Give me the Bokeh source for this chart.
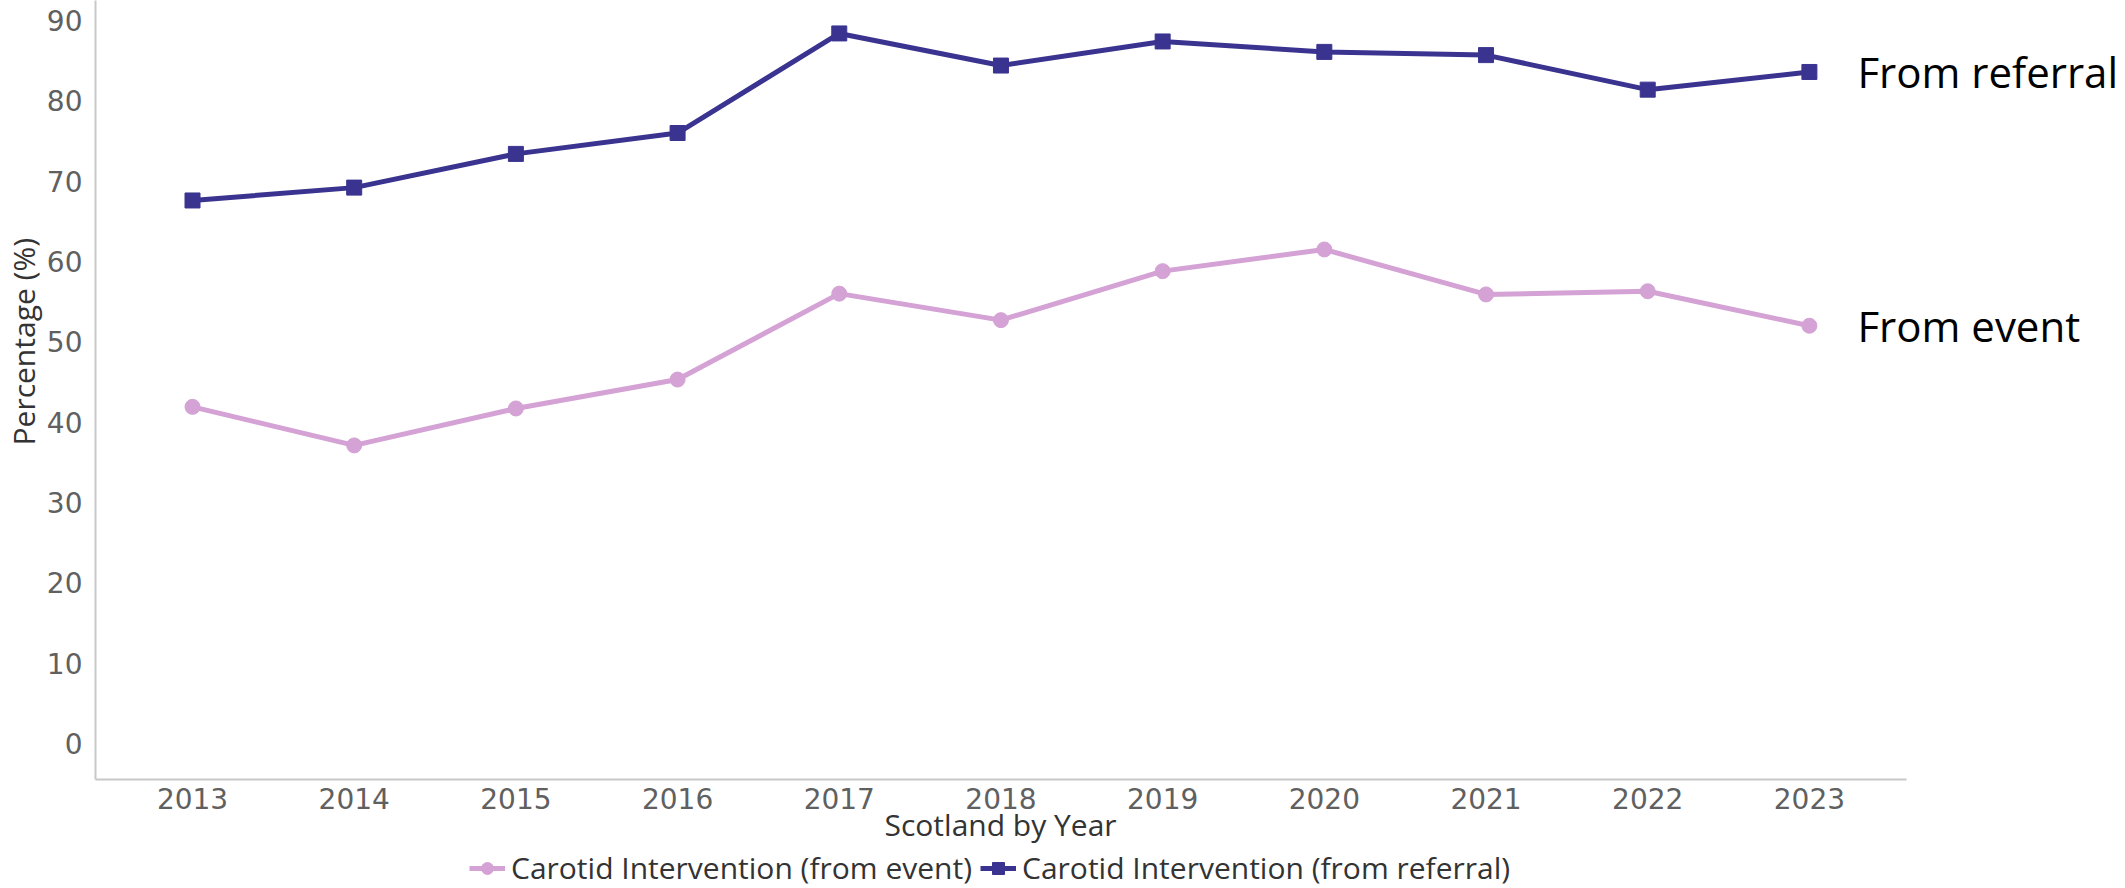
from bokeh.plotting import figure
from bokeh.layouts import column
from bokeh.models import Label, Legend, LegendItem, FixedTicker, Range1d, Title
from bokeh.embed import file_html
from bokeh.resources import INLINE

years = [2013, 2014, 2015, 2016, 2017, 2018, 2019, 2020, 2021, 2022, 2023]
from_referral = [67.6, 69.2, 73.4, 76.0, 88.4, 84.4, 87.4, 86.1, 85.7, 81.4, 83.6]
from_event = [41.9, 37.1, 41.7, 45.3, 56.0, 52.7, 58.8, 61.5, 55.9, 56.3, 52.0]
y_ticks = [0, 10, 20, 30, 40, 50, 60, 70, 80, 90]
series_names = ["Carotid Intervention (from event)", "Carotid Intervention (from referral)"]
end_labels = ["From event", "From referral"]
x_title = "Scotland by Year"
y_title = "Percentage (%)"

REF_COLOR = "#3a3490"
EVT_COLOR = "#d4a2d4"

X0, X1, XR = 2012.4, 2023.6, 2024.955
p = figure(width=2125, height=846, output_backend="svg", toolbar_location=None,
           x_range=Range1d(X0, XR), y_range=Range1d(-4.5, 92.5),
           min_border_left=95, min_border_right=0, min_border_top=0, min_border_bottom=67)
p.outline_line_color = None
p.xgrid.grid_line_color = None
p.ygrid.grid_line_color = None

for ax in (p.xaxis[0], p.yaxis[0]):
    ax.axis_line_color = "#c8c8c8"
    ax.axis_line_width = 2
    ax.major_tick_line_color = None
    ax.minor_tick_line_color = None
    ax.major_label_text_font = "DejaVu Sans"
    ax.major_label_text_font_size = "28px"
    ax.major_label_text_color = "#606060"

p.xaxis.bounds = (X0, X1)
p.xaxis.ticker = FixedTicker(ticks=years)
p.yaxis.ticker = FixedTicker(ticks=y_ticks)
p.xaxis.major_label_standoff = 2
p.yaxis.major_label_standoff = 7

p.add_layout(Title(text=y_title, align="left", offset=334, vertical_align="top", standoff=-4,
                   text_font="Open Sans", text_font_size="30px", text_font_style="normal",
                   text_color="#333333"), "left")
p.add_layout(Title(text=x_title, align="left", offset=789, vertical_align="top", standoff=-16,
                   text_font="Open Sans", text_font_size="30px", text_font_style="normal",
                   text_color="#333333"), "below")

def draw(fig):
    a = fig.line(years, from_event, line_color=EVT_COLOR, line_width=5)
    b = fig.scatter(years, from_event, marker="circle", size=15, fill_color=EVT_COLOR, line_color=EVT_COLOR)
    c = fig.line(years, from_referral, line_color=REF_COLOR, line_width=5)
    d = fig.scatter(years, from_referral, marker="square", size=15, fill_color=REF_COLOR, line_color=REF_COLOR)
    return a, b, c, d

draw(p)

for val, txt in ((from_event[-1], end_labels[0]), (from_referral[-1], end_labels[1])):
    p.add_layout(Label(x=years[-1], y=val, text=txt, x_offset=48,
                       text_baseline="middle", text_font="Open Sans", text_font_size="42px",
                       text_color="black"))

# legend strip below the chart (its renderers lie outside the visible range)
q = figure(width=2125, height=42, output_backend="svg", toolbar_location=None,
           x_range=Range1d(X0, XR), y_range=Range1d(1000, 1001),
           x_axis_location=None, y_axis_location=None,
           min_border_left=0, min_border_right=0, min_border_top=0, min_border_bottom=0)
q.outline_line_color = None
q.xgrid.grid_line_color = None
q.ygrid.grid_line_color = None
l1, s1, l2, s2 = draw(q)
legend = Legend(items=[LegendItem(label=series_names[0], renderers=[l1, s1]),
                       LegendItem(label=series_names[1], renderers=[l2, s2])],
                orientation="horizontal", location=(374, 0),
                label_text_font="Open Sans", label_text_font_size="30px", label_text_color="#333333",
                glyph_width=36, glyph_height=30, label_height=30, label_standoff=6,
                spacing=8, padding=0, margin=0, border_line_color=None, background_fill_alpha=0)
q.add_layout(legend, "center")

layout = column(p, q, spacing=0)
open("out.html", "w").write(file_html(layout, INLINE))
